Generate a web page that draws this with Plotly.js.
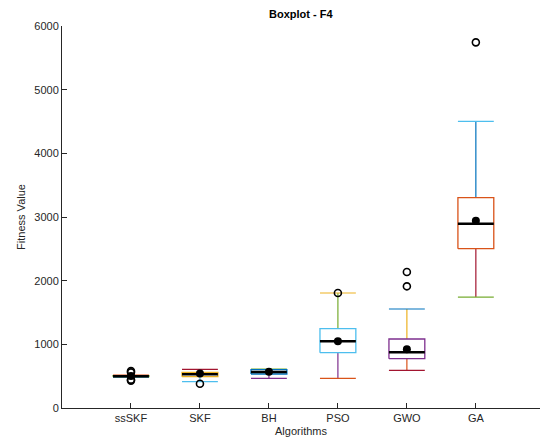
<!DOCTYPE html>
<html>
<head>
<meta charset="utf-8">
<script src="https://cdn.plot.ly/plotly-3.0.1.min.js"></script>
<style>html,body{margin:0;padding:0;background:#fff;}#chart{width:540px;height:441px;}</style>
</head>
<body>
<div id="chart"></div>
<script>
// ---- data ----
var categories = ['ssSKF', 'SKF', 'BH', 'PSO', 'GWO', 'GA'];
var lowerCap = [485, 413, 466, 466, 592, 1743];
var q1       = [492, 492, 534, 869, 775, 2502];
var medians  = [500, 529, 565, 1047, 874, 2895];
var q3       = [508, 560, 602, 1246, 1084, 3303];
var upperCap = [518, 607, 612, 1806, 1555, 4502];
var means    = [502, 540, 568, 1047, 922, 2942];
var outliers = [[430, 445, 560, 580], [382], [], [1806], [1911, 2136], [5743]];
var yTicks   = [0, 1000, 2000, 3000, 4000, 5000, 6000];

// ---- styles ----
var upperCapColor     = ['#D95319', '#A2142F', '#77AC30', '#EDB120', '#0072BD', '#4DBEEE'];
var upperWhiskerColor = ['#D95319', '#7E2F8E', '#77AC30', '#77AC30', '#EDB120', '#0072BD'];
var boxColor          = ['#77AC30', '#EDB120', '#0072BD', '#4DBEEE', '#7E2F8E', '#D95319'];
var lowerWhiskerColor = ['#0072BD', '#4DBEEE', '#7E2F8E', '#7E2F8E', '#D95319', '#A2142F'];
var lowerCapColor     = ['#0072BD', '#4DBEEE', '#7E2F8E', '#D95319', '#A2142F', '#77AC30'];
var hw = 0.26;

var traces = [];
function seg(x, y, color, width) {
  traces.push({type: 'scatter', mode: 'lines', x: x, y: y, hoverinfo: 'skip',
    line: {color: color, width: width}, showlegend: false});
}
for (var i = 0; i < categories.length; i++) {
  var c = i + 1;
  seg([c, c], [q3[i], upperCap[i]], upperWhiskerColor[i], 1.2);
  seg([c, c], [q1[i], lowerCap[i]], lowerWhiskerColor[i], 1.2);
  seg([c - hw, c + hw], [upperCap[i], upperCap[i]], upperCapColor[i], 1.2);
  seg([c - hw, c + hw], [lowerCap[i], lowerCap[i]], lowerCapColor[i], 1.2);
  seg([c - hw, c + hw, c + hw, c - hw, c - hw], [q1[i], q1[i], q3[i], q3[i], q1[i]], boxColor[i], 1.3);
  seg([c - hw, c + hw], [medians[i], medians[i]], '#000000', 2.5);
}
traces.push({type: 'scatter', mode: 'markers', x: categories.map(function (d, i) { return i + 1; }),
  y: means, marker: {color: '#000000', size: 8, symbol: 'circle'}, showlegend: false, hoverinfo: 'skip'});
var ox = [], oy = [];
outliers.forEach(function (arr, i) { arr.forEach(function (v) { ox.push(i + 1); oy.push(v); }); });
traces.push({type: 'scatter', mode: 'markers', x: ox, y: oy,
  marker: {color: '#000000', size: 7, symbol: 'circle-open', line: {color: '#000000', width: 1.6}},
  showlegend: false, hoverinfo: 'skip'});

var axisFont = {family: 'Liberation Sans, Arial, sans-serif', size: 11, color: '#262626'};
var layout = {
  width: 540, height: 441,
  margin: {l: 62, r: 0, t: 26, b: 33},
  paper_bgcolor: '#ffffff', plot_bgcolor: '#ffffff',
  showlegend: false,
  title: {text: '<b>Boxplot - F4</b>', x: 0.557, xanchor: 'center', y: 0.968, yanchor: 'middle',
    font: {family: 'Liberation Sans, Arial, sans-serif', size: 11, color: '#000000'}},
  xaxis: {
    range: [0, 6.93], tickmode: 'array', tickvals: categories.map(function (d, i) { return i + 1; }),
    ticktext: categories, showgrid: false, zeroline: false, showline: true, linecolor: '#262626',
    linewidth: 1, ticks: 'inside', ticklen: 5, tickcolor: '#262626', tickfont: axisFont,
    title: {text: 'Algorithms', font: axisFont, standoff: 4}
  },
  yaxis: {
    range: [0, 6000], tickmode: 'array', tickvals: yTicks, ticktext: yTicks.map(String),
    showgrid: false, zeroline: false, showline: true, linecolor: '#262626', linewidth: 1,
    ticks: 'inside', ticklen: 5, tickcolor: '#262626', tickfont: axisFont,
    title: {text: 'Fitness Value', font: axisFont, standoff: 6}
  }
};
Plotly.newPlot('chart', traces, layout, {displayModeBar: false, staticPlot: true});
</script>
</body>
</html>
